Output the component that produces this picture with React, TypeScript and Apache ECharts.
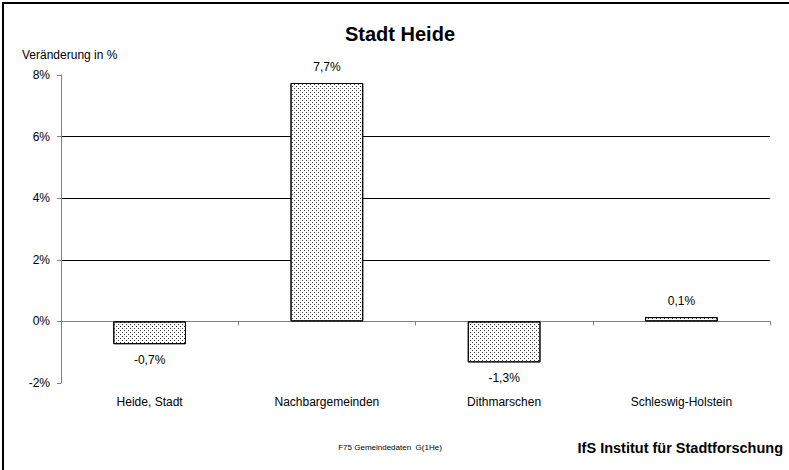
import React, { useEffect, useRef } from "react";
import * as echarts from "echarts";

const categories = ["Heide, Stadt", "Nachbargemeinden", "Dithmarschen", "Schleswig-Holstein"];
const values = [-0.74, 7.74, -1.33, 0.14];
const titleText = "Stadt Heide";
const yAxisTitle = "Veränderung in %";
const sourceText = "F75 Gemeindedaten  G(1He)";
const creditText = "IfS Institut für Stadtforschung";

const FONT = "'Liberation Sans', Arial, Helvetica, sans-serif";

function fmt(v: number): string {
  return v.toFixed(1).replace(".", ",") + "%";
}

export default function App() {
  const ref = useRef<HTMLDivElement>(null);
  useEffect(() => {
    if (!ref.current) return;
    const chart = echarts.init(ref.current, undefined, { renderer: "svg" });
    const decal = {
      symbol: "rect",
      symbolSize: 1,
      color: "#3a3a3a",
      dashArrayX: [[1, 3], [0, 2, 1, 1]],
      dashArrayY: [1, 1],
    };
    chart.setOption({
      animation: false,
      backgroundColor: "#ffffff",
      textStyle: { fontFamily: FONT },
      grid: { left: 61, right: 19, top: 75, bottom: 87, containLabel: false },
      xAxis: [
        {
          type: "category",
          data: categories,
          boundaryGap: true,
          axisLine: { onZero: true, lineStyle: { color: "#808080", width: 1 } },
          axisTick: { show: true, length: 4, inside: false, lineStyle: { color: "#808080" } },
          axisLabel: { show: false },
          splitLine: { show: false },
        },
        {
          type: "category",
          data: categories,
          position: "bottom",
          boundaryGap: true,
          axisLine: { show: false, onZero: false },
          axisTick: { show: false },
          axisLabel: { show: true, margin: 13, color: "#000", fontSize: 12, fontFamily: FONT },
          splitLine: { show: false },
        },
      ],
      yAxis: {
        type: "value",
        min: -2,
        max: 8,
        interval: 2,
        axisLine: { show: true, lineStyle: { color: "#808080", width: 1 } },
        axisTick: { show: true, length: 4, lineStyle: { color: "#808080" } },
        axisLabel: {
          color: "#000",
          fontSize: 12,
          fontFamily: FONT,
          margin: 11,
          formatter: (v: number) => `${v}%`,
        },
        splitLine: {
          show: true,
          showMinLine: false,
          showMaxLine: false,
          lineStyle: { color: "#000", width: 1 },
        },
      },
      series: [
        {
          type: "bar",
          xAxisIndex: 0,
          yAxisIndex: 0,
          barWidth: "41%",
          data: values.map((v) => ({
            value: v,
            label: { position: v < 0 ? "bottom" : "top" },
          })),
          itemStyle: {
            color: "#ffffff",
            borderColor: "#000",
            borderWidth: 1,
            decal,
          },
          label: {
            show: true,
            distance: 10,
            color: "#000",
            fontSize: 12,
            fontFamily: FONT,
            formatter: (p: any) => fmt(p.value),
          },
        },
      ],
      graphic: [
        {
          type: "rect",
          shape: { x: 3, y: 3, width: 820, height: 500 },
          style: { fill: "none", stroke: "#000", lineWidth: 2 },
          silent: true,
        },
        {
          type: "text",
          x: 400,
          y: 34,
          style: {
            text: titleText,
            fontSize: 20,
            fontWeight: "bold",
            fontFamily: FONT,
            fill: "#000",
            textAlign: "center",
            textVerticalAlign: "middle",
          },
        },
        {
          type: "text",
          x: 22,
          y: 55,
          style: {
            text: yAxisTitle,
            fontSize: 12,
            fontFamily: FONT,
            fill: "#000",
            textAlign: "left",
            textVerticalAlign: "middle",
          },
        },
        {
          type: "text",
          x: 390,
          y: 447,
          style: {
            text: sourceText,
            fontSize: 8,
            fontFamily: FONT,
            fill: "#000",
            textAlign: "center",
            textVerticalAlign: "middle",
          },
        },
        {
          type: "text",
          x: 783,
          y: 448,
          style: {
            text: creditText,
            fontSize: 14.5,
            fontWeight: "bold",
            fontFamily: FONT,
            fill: "#000",
            textAlign: "right",
            textVerticalAlign: "middle",
          },
        },
      ],
    });
    return () => chart.dispose();
  }, []);
  return (
    <div
      ref={ref}
      style={{ position: "fixed", left: 0, top: 0, width: 789, height: 470, background: "#fff" }}
    />
  );
}
